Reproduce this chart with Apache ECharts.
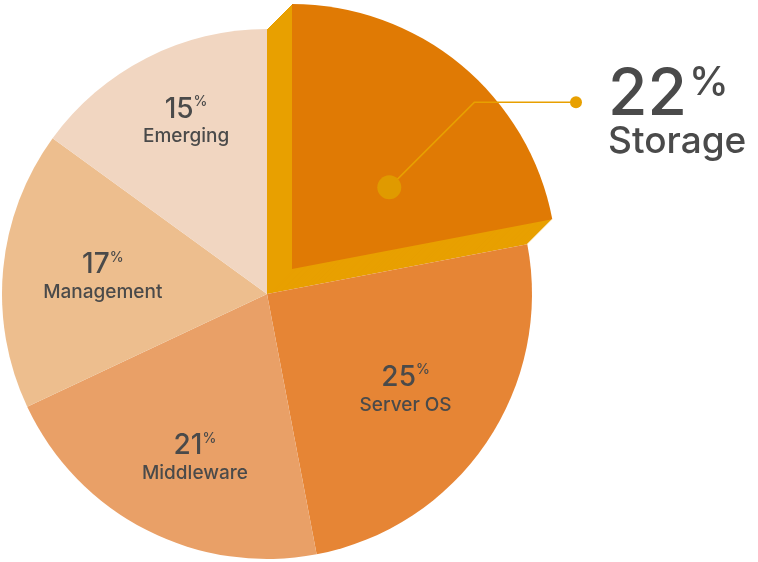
<!DOCTYPE html>
<html>
<head>
<meta charset="utf-8">
<script src="https://cdn.jsdelivr.net/npm/echarts@6/dist/echarts.min.js"></script>
<style>
  html, body { margin: 0; padding: 0; background: #fff; }
  #pie { width: 758px; height: 562px; }
</style>
</head>
<body>
<div id="pie"></div>
<script>
// data
var categories = ['Storage', 'Server OS', 'Middleware', 'Management', 'Emerging'];
var shares = [22, 25, 21, 17, 15];
var sliceColors = ['#e8a000', '#e68535', '#e9a067', '#edbe8e', '#f1d6c1'];
// where each inside label sits (distance from centre, angle clockwise from 12 o'clock)
var labelRadius = [0, 169, 180, 165, 190];
var labelAngle = [0, 124.9, 203.6, 275.6, 334.8];

var CX = 267, CY = 294, R = 265;
var LIFT = 25;           // how far the Storage slice pops out
var storageTop = '#e07a04';
var edgeColor = '#e8a000';
var textColor = '#4a4a4a';
var font = 'Inter';

function sliceData(onlyFirst, firstColor) {
    return categories.map(function (name, i) {
        var hide = onlyFirst && i > 0;
        return {
            name: name,
            value: shares[i],
            itemStyle: {color: hide ? 'rgba(0,0,0,0)' : (i === 0 ? firstColor : sliceColors[i])}
        };
    });
}

var series = [];

// whole pie
series.push({
    type: 'pie', center: [CX, CY], radius: R, silent: true,
    label: {show: false}, labelLine: {show: false},
    itemStyle: {borderWidth: 0},
    data: sliceData(false, edgeColor)
});

// extruded side of the Storage slice
for (var k = 1; k < LIFT; k++) {
    series.push({
        type: 'pie', center: [CX + k, CY - k], radius: R, silent: true,
        label: {show: false}, labelLine: {show: false},
        itemStyle: {borderWidth: 0},
        data: sliceData(true, edgeColor)
    });
}

// Storage face
series.push({
    type: 'pie', center: [CX + LIFT, CY - LIFT], radius: R, silent: true,
    label: {show: false}, labelLine: {show: false},
    itemStyle: {borderWidth: 0},
    data: sliceData(true, storageTop)
});

// labels of the other slices (transparent pie, labels moved to their spots)
series.push({
    type: 'pie', center: [CX, CY], radius: R, silent: true,
    itemStyle: {color: 'rgba(0,0,0,0)', borderWidth: 0},
    labelLine: {show: false},
    label: {
        show: true,
        position: 'inside',
        formatter: function (p) {
            if (p.dataIndex === 0) return '';
            return '{n|' + p.value + '}{p|%}\n{t|' + p.name + '}';
        },
        rich: {
            n: {fontFamily: font, fontSize: 28, fontWeight: 500, color: textColor, lineHeight: 29},
            p: {fontFamily: font, fontSize: 14, fontWeight: 500, color: textColor, verticalAlign: 'top', lineHeight: 29, padding: [0, 0, 12, 0]},
            t: {fontFamily: font, fontSize: 19, fontWeight: 500, color: textColor, lineHeight: 26}
        }
    },
    labelLayout: function (p) {
        var i = p.dataIndex;
        if (i === 0) return {};
        var a = labelAngle[i] / 180 * Math.PI;
        return {
            x: CX + labelRadius[i] * Math.sin(a),
            y: CY - labelRadius[i] * Math.cos(a),
            align: 'center',
            verticalAlign: 'middle'
        };
    },
    data: categories.map(function (name, i) { return {name: name, value: shares[i]}; })
});

// Storage callout
var fx = CX + LIFT, fy = CY - LIFT;
var dotA = 50 / 180 * Math.PI, dotR = 127;
var dot = [fx + dotR * Math.sin(dotA), fy - dotR * Math.cos(dotA)];
var bend = [dot[0] + 85, dot[1] - 85];
var tip = [576, bend[1]];

var option = {
    animation: false,
    series: series,
    graphic: [
        {type: 'polyline', silent: true, z: 10,
         shape: {points: [dot, bend, tip]},
         style: {stroke: edgeColor, lineWidth: 1.5, fill: null}},
        {type: 'circle', silent: true, z: 10,
         shape: {cx: dot[0], cy: dot[1], r: 12}, style: {fill: '#e09a00'}},
        {type: 'circle', silent: true, z: 10,
         shape: {cx: tip[0], cy: tip[1], r: 6}, style: {fill: edgeColor}},
        {type: 'text', silent: true, z: 10, x: 608, y: 96,
         style: {
             text: '{n|' + shares[0] + '}{p|%}',
             verticalAlign: 'middle',
             rich: {
                 n: {fontFamily: font, fontSize: 64, fontWeight: 500, fill: textColor, lineHeight: 66},
                 p: {fontFamily: font, fontSize: 40, fontWeight: 500, fill: textColor, verticalAlign: 'top', lineHeight: 66, padding: [0, 0, 30, 2]}
             }
         }},
        {type: 'text', silent: true, z: 10, x: 608, y: 142,
         style: {text: categories[0], fontFamily: font, fontSize: 37, fontWeight: 500,
                 fill: textColor, verticalAlign: 'middle'}}
    ]
};

var myChart = echarts.init(document.getElementById('pie'));
myChart.setOption(option);
</script>
</body>
</html>
